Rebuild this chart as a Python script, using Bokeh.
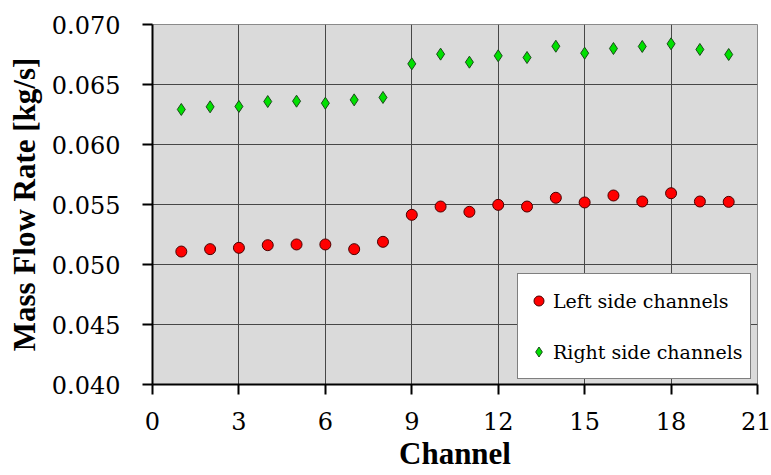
import numpy as np
from bokeh.plotting import figure
from bokeh.models import Range1d, FixedTicker, NumeralTickFormatter, Legend, LegendItem
from bokeh.embed import file_html
from bokeh.resources import INLINE

channels = list(range(1, 21))
left_side = [0.05108, 0.05128, 0.05139, 0.05161, 0.05167, 0.05167, 0.05128, 0.05189,
             0.05414, 0.05483, 0.05439, 0.05497, 0.05483, 0.05556, 0.05517, 0.05575,
             0.05525, 0.05594, 0.05525, 0.05522]
right_side = [0.06292, 0.06314, 0.06317, 0.06358, 0.06361, 0.06344, 0.06372, 0.06392,
              0.06672, 0.06753, 0.06686, 0.06739, 0.06725, 0.06819, 0.06761, 0.06800,
              0.06817, 0.06839, 0.06792, 0.06750]
x_ticks = [0, 3, 6, 9, 12, 15, 18, 21]
y_ticks = [0.040, 0.045, 0.050, 0.055, 0.060, 0.065, 0.070]

FONT = "DejaVu Serif"
BOLD_FONT = "Liberation Serif"

p = figure(width=771, height=475, output_backend="svg", toolbar_location=None,
           x_range=Range1d(0, 21), y_range=Range1d(0.040, 0.070),
           min_border_left=152, min_border_right=14, min_border_top=24, min_border_bottom=91)
p.background_fill_color = "#dadada"
p.border_fill_color = "white"
p.outline_line_color = "#8a8a8a"
p.outline_line_width = 1

p.xaxis.ticker = FixedTicker(ticks=x_ticks)
p.yaxis.ticker = FixedTicker(ticks=y_ticks)
p.yaxis.formatter = NumeralTickFormatter(format="0.000")

for ax in (p.xaxis[0], p.yaxis[0]):
    ax.axis_line_color = "black"
    ax.axis_line_width = 2
    ax.major_tick_line_color = "black"
    ax.major_tick_line_width = 2
    ax.major_tick_out = 10
    ax.major_tick_in = 0
    ax.minor_tick_line_color = None
    ax.major_label_text_font = FONT
    ax.major_label_text_font_size = "24px"
    ax.major_label_text_color = "black"
    ax.axis_label_text_font = BOLD_FONT
    ax.axis_label_text_font_size = "31px"
    ax.axis_label_text_font_style = "bold"
    ax.axis_label_text_color = "black"

p.xaxis.axis_label = "Channel"
p.yaxis.axis_label = "Mass Flow Rate [kg/s]"
p.xaxis.major_label_standoff = 17
p.xaxis.axis_label_standoff = 3
p.yaxis.major_label_standoff = 22
p.yaxis.axis_label_standoff = 7

p.xgrid.ticker = FixedTicker(ticks=x_ticks)
p.ygrid.ticker = FixedTicker(ticks=y_ticks)
for g in (p.xgrid[0], p.ygrid[0]):
    g.grid_line_color = "#474747"
    g.grid_line_width = 1

r_left = p.scatter(channels, left_side, marker="circle", size=11,
                   fill_color="#ff0000", line_color="#4a0000", line_width=1)
r_right = p.scatter(channels, right_side, marker="diamond", size=12,
                    fill_color="#00e000", line_color="#1a4a1a", line_width=1)

legend = Legend(items=[LegendItem(label="Left side channels", renderers=[r_left]),
                       LegendItem(label="Right side channels", renderers=[r_right])],
                location=(365, 5))
legend.label_text_font = FONT
legend.label_text_font_size = "19px"
legend.label_text_color = "black"
legend.glyph_width = 25
legend.glyph_height = 37
legend.label_height = 37
legend.label_standoff = 2
legend.spacing = 14
legend.padding = 8
legend.margin = 0
legend.border_line_color = "black"
legend.border_line_width = 1
legend.background_fill_color = "white"
legend.background_fill_alpha = 1
p.add_layout(legend, "center")

open("out.html", "w").write(file_html(p, INLINE))
